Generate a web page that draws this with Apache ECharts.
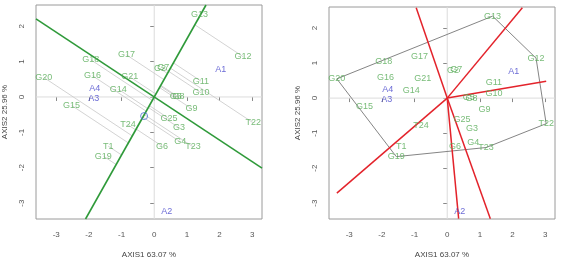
<!DOCTYPE html>
<html lang="en">
<head>
    <meta charset="UTF-8">
    <title>GGE biplot</title>
    <script src="https://cdn.jsdelivr.net/npm/echarts@6/dist/echarts.min.js"></script>
    <style>
        html, body {margin: 0; padding: 0; background: #fff;}
    </style>
</head>
<body>
<div id="main" style="width: 561px; height: 259px;"></div>
<script type="text/javascript">
    // genotype scores (AXIS1, AXIS2)
    var genoNames = ['G13','G12','G11','G10','G9','G5','G8','G2','G7','G17','G18','G20','G16','G21','G14','G15','G25','T24','T22','G3','G4','T23','G6','T1','G19'];
    var genoX = [1.39, 2.72, 1.43, 1.43, 1.14, 0.66, 0.74, 0.18, 0.28, -0.85, -1.94, -3.38, -1.89, -0.75, -1.10, -2.53, 0.45, -0.80, 3.03, 0.76, 0.80, 1.19, 0.24, -1.41, -1.56];
    var genoY = [2.34, 1.14, 0.45, 0.12, -0.33, 0.02, 0.00, 0.80, 0.82, 1.19, 1.05, 0.55, 0.60, 0.57, 0.22, -0.24, -0.61, -0.79, -0.73, -0.87, -1.27, -1.41, -1.39, -1.39, -1.67];

    // environment scores
    var envNames = ['A1','A2','A3','A4'];
    var envX = [2.04, 0.38, -1.85, -1.82];
    var envY = [0.77, -3.23, -0.04, 0.25];

    // average environment marker
    var avgEnv = [-0.31, -0.54];
    // slope of the average environment axis
    var atcSlope = 1.64;

    // convex hull (polygon vertices)
    var hullNames = ['G13','G12','T22','T23','G19','G20'];
    // ends of the sector rays from the origin
    var rayX = [-0.95, 2.30, 3.03, 1.32, 0.35, -3.38];
    var rayY = [2.58, 2.58, 0.48, -3.44, -3.44, -2.71];

    var xTicks = [-3, -2, -1, 0, 1, 2, 3];
    var yTicks = [-3, -2, -1, 0, 1, 2];
    var xRange = [-3.62, 3.30];
    var yRange = [-3.45, 2.60];

    var green = '#56ab56', blue = '#4747cc';

    function xAxisFor(idx) {
        return {
            type: 'value', gridIndex: idx, min: xRange[0], max: xRange[1],
            name: 'AXIS1 63.07 %', nameLocation: 'middle', nameGap: 32,
            nameTextStyle: {color: '#444', fontSize: 8, fontFamily: 'Liberation Sans'},
            axisLine: {show: false},
            splitLine: {show: false},
            axisTick: {show: true, length: 4, customValues: xTicks, lineStyle: {color: '#888'}},
            axisLabel: {customValues: xTicks, color: '#555', fontSize: 8, margin: 12, fontFamily: 'Liberation Sans'}
        };
    }
    function yAxisFor(idx) {
        return {
            type: 'value', gridIndex: idx, min: yRange[0], max: yRange[1],
            name: 'AXIS2 25.96 %', nameLocation: 'middle', nameGap: 27,
            nameTextStyle: {color: '#444', fontSize: 8, fontFamily: 'Liberation Sans'},
            axisLine: {show: false},
            splitLine: {show: false},
            axisTick: {show: true, length: 4, customValues: yTicks, lineStyle: {color: '#888'}},
            axisLabel: {customValues: yTicks, color: '#555', fontSize: 8, margin: 10, rotate: 90, fontFamily: 'Liberation Sans'}
        };
    }

    function seg(idx, pts, color, width) {
        return {
            type: 'line', xAxisIndex: idx, yAxisIndex: idx, data: pts,
            showSymbol: false, symbol: 'none', silent: true, animation: false,
            lineStyle: {color: color, width: width}
        };
    }

    function labelSeries(idx, names, xs, ys, color) {
        var d = [];
        for (var i = 0; i < names.length; i++) d.push({name: names[i], value: [xs[i], ys[i]]});
        return {
            type: 'scatter', xAxisIndex: idx, yAxisIndex: idx, data: d,
            symbolSize: 0, animation: false, z: 10,
            label: {show: true, position: 'inside', formatter: '{b}', color: color, fontSize: 9, fontFamily: 'Liberation Sans'}
        };
    }

    function refLines(idx) {
        return [
            seg(idx, [[0, yRange[0]], [0, yRange[1]]], '#dcdcdc', 1),
            seg(idx, [[xRange[0], 0], [xRange[1], 0]], '#dcdcdc', 1)
        ];
    }

    var series = [];
    // ---- left panel: mean vs stability
    series = series.concat(refLines(0));
    for (var i = 0; i < genoNames.length; i++) {
        var t = (genoX[i] + genoY[i] * atcSlope) / (1 + atcSlope * atcSlope);
        series.push(seg(0, [[genoX[i], genoY[i]], [t, t * atcSlope]], '#c8c8c8', 0.8));
    }
    series.push(seg(0, [[yRange[0] / atcSlope, yRange[0]], [yRange[1] / atcSlope, yRange[1]]], '#2f9a3a', 1.6));
    series.push(seg(0, [[xRange[0], -xRange[0] / atcSlope], [xRange[1], -xRange[1] / atcSlope]], '#2f9a3a', 1.6));
    series.push({
        type: 'scatter', xAxisIndex: 0, yAxisIndex: 0, data: [avgEnv], symbol: 'circle', symbolSize: 7,
        itemStyle: {color: 'rgba(0,0,0,0)', borderColor: '#4a6fd0', borderWidth: 1}, animation: false, z: 9
    });
    series.push(labelSeries(0, genoNames, genoX, genoY, green));
    series.push(labelSeries(0, envNames, envX, envY, blue));

    // ---- right panel: which won where
    series = series.concat(refLines(1));
    var hull = [];
    hullNames.forEach(function (n) {
        var k = genoNames.indexOf(n);
        hull.push([genoX[k], genoY[k]]);
    });
    hull.push(hull[0]);
    series.push(seg(1, hull, '#858585', 1));
    for (var r = 0; r < rayX.length; r++) {
        series.push(seg(1, [[0, 0], [rayX[r], rayY[r]]], '#e3232b', 1.5));
    }
    series.push(labelSeries(1, genoNames, genoX, genoY, green));
    series.push(labelSeries(1, envNames, envX, envY, blue));

    var myChart = echarts.init(document.getElementById('main'));
    var option = {
        backgroundColor: '#fff',
        animation: false,
        grid: [
            {left: 36, top: 5, width: 226, height: 214, outerBoundsMode: 'none', containLabel: false,
                show: true, borderColor: '#9a9a9a', borderWidth: 1, backgroundColor: 'transparent'},
            {left: 329, top: 7, width: 226, height: 212, outerBoundsMode: 'none', containLabel: false,
                show: true, borderColor: '#9a9a9a', borderWidth: 1, backgroundColor: 'transparent'}
        ],
        xAxis: [xAxisFor(0), xAxisFor(1)],
        yAxis: [yAxisFor(0), yAxisFor(1)],
        series: series
    };
    myChart.setOption(option);
</script>
</body>
</html>
